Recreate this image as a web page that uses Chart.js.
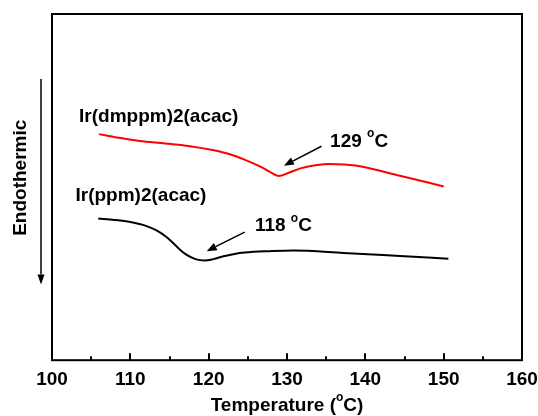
<!DOCTYPE html>
<html>
<head>
<meta charset="utf-8">
<script src="https://cdn.jsdelivr.net/npm/chart.js@4/dist/chart.umd.min.js"></script>
<style>
  html, body { margin: 0; padding: 0; background: #fff; }
  #wrap { width: 538px; height: 416px; }
</style>
</head>
<body>
<div id="wrap"><canvas id="dscChart" width="538" height="416"></canvas></div>
<script>
// DSC curves (heat flow in arbitrary units, endo down)
const dmppmTemp = [106.0, 108.3, 111.2, 114.5, 117.6, 120.5, 122.7, 124.5, 126.6, 127.8, 128.9, 130.3, 131.7, 133.6, 135.5, 137.4, 139.3, 144.4, 150.0];
const dmppmFlow = [65.3, 64.3, 63.3, 62.6, 61.8, 60.7, 59.5, 58.0, 55.9, 54.4, 53.2, 54.2, 55.4, 56.3, 56.7, 56.5, 56.0, 53.3, 50.2];

const ppmTemp = [105.9, 108.0, 110.0, 112.0, 113.4, 114.6, 115.5, 116.3, 117.2, 118.3, 119.5, 120.6, 121.9, 123.3, 124.6, 127.8, 130.8, 137.2, 144.4, 150.6];
const ppmFlow = [40.9, 40.5, 39.9, 38.8, 37.4, 35.6, 33.8, 32.0, 30.4, 29.2, 28.8, 29.2, 30.0, 30.7, 31.1, 31.5, 31.7, 31.0, 30.1, 29.3];

const xTicks = [100, 110, 120, 130, 140, 150, 160];
const xMinorTicks = [105, 115, 125, 135, 145, 155];

const FONT = 'bold 19px "Liberation Sans", Arial, sans-serif';
const SUP_FONT = 'bold 12px "Liberation Sans", Arial, sans-serif';

// text pieces: [text, superscript?]
const notes = [
    { x: 103.45, y: 70.3, parts: [['Ir(dmppm)2(acac)', false]] },
    { x: 103.0, y: 47.6, parts: [['Ir(ppm)2(acac)', false]] },
    { x: 135.5, y: 63.2, parts: [['129 ', false], ['o', true], ['C', false]] },
    { x: 125.9, y: 38.7, parts: [['118 ', false], ['o', true], ['C', false]] }
];

const arrows = [
    { from: [134.4, 61.8], to: [129.6, 56.2] },
    { from: [124.6, 37.0], to: [119.75, 31.5] }
];

function toPoints(xs, ys) {
    return xs.map((x, i) => ({ x: x, y: ys[i] }));
}

function drawParts(ctx, parts, x, y, align) {
    let total = 0;
    parts.forEach(p => {
        ctx.font = p[1] ? SUP_FONT : FONT;
        total += ctx.measureText(p[0]).width;
    });
    let cx = align === 'center' ? x - total / 2 : x;
    ctx.textAlign = 'left';
    ctx.textBaseline = 'middle';
    parts.forEach(p => {
        ctx.font = p[1] ? SUP_FONT : FONT;
        ctx.fillText(p[0], cx, p[1] ? y - 8 : y);
        cx += ctx.measureText(p[0]).width;
    });
}

function drawArrow(ctx, x1, y1, x2, y2, head, half) {
    const ang = Math.atan2(y2 - y1, x2 - x1);
    const bx = x2 - head * Math.cos(ang);
    const by = y2 - head * Math.sin(ang);
    ctx.beginPath();
    ctx.moveTo(x1, y1);
    ctx.lineTo(bx, by);
    ctx.stroke();
    ctx.beginPath();
    ctx.moveTo(x2, y2);
    ctx.lineTo(bx + half * Math.sin(ang), by - half * Math.cos(ang));
    ctx.lineTo(bx - half * Math.sin(ang), by + half * Math.cos(ang));
    ctx.closePath();
    ctx.fill();
}

const decorations = {
    id: 'decorations',
    afterDraw(chart) {
        const ctx = chart.ctx;
        const area = chart.chartArea;
        const xs = chart.scales.x;
        const ys = chart.scales.y;
        ctx.save();
        ctx.strokeStyle = '#000';
        ctx.fillStyle = '#000';

        // frame
        ctx.lineWidth = 2;
        ctx.strokeRect(area.left, area.top, area.right - area.left, area.bottom - area.top);

        // inward ticks on the bottom axis
        ctx.lineWidth = 2;
        xTicks.forEach(t => {
            const px = Math.round(xs.getPixelForValue(t));
            ctx.beginPath();
            ctx.moveTo(px, area.bottom);
            ctx.lineTo(px, area.bottom - 7);
            ctx.stroke();
        });
        xMinorTicks.forEach(t => {
            const px = Math.round(xs.getPixelForValue(t));
            ctx.beginPath();
            ctx.moveTo(px, area.bottom);
            ctx.lineTo(px, area.bottom - 4);
            ctx.stroke();
        });

        // labels and arrows
        notes.forEach(n => {
            drawParts(ctx, n.parts, xs.getPixelForValue(n.x), ys.getPixelForValue(n.y), 'left');
        });
        ctx.lineWidth = 1.5;
        arrows.forEach(a => {
            drawArrow(ctx,
                xs.getPixelForValue(a.from[0]), ys.getPixelForValue(a.from[1]),
                xs.getPixelForValue(a.to[0]), ys.getPixelForValue(a.to[1]), 10, 4);
        });

        // y-axis: "Endothermic" with downward arrow
        const ax = area.left - 11;
        ctx.lineWidth = 1.5;
        drawArrow(ctx, ax, ys.getPixelForValue(81.2), ax, ys.getPixelForValue(21.9), 10, 3.5);
        ctx.save();
        ctx.translate(area.left - 31, ys.getPixelForValue(52.7));
        ctx.rotate(-Math.PI / 2);
        drawParts(ctx, [['Endothermic', false]], 0, 0, 'center');
        ctx.restore();

        // x-axis title
        drawParts(ctx, [['Temperature (', false], ['o', true], ['C)', false]],
            (area.left + area.right) / 2, 406, 'center');

        ctx.restore();
    }
};

new Chart(document.getElementById('dscChart').getContext('2d'), {
    type: 'line',
    data: {
        datasets: [{
            label: 'Ir(dmppm)2(acac)',
            data: toPoints(dmppmTemp, dmppmFlow),
            borderColor: '#ff0000',
            borderWidth: 2,
            pointRadius: 0,
            cubicInterpolationMode: 'monotone',
            fill: false
        }, {
            label: 'Ir(ppm)2(acac)',
            data: toPoints(ppmTemp, ppmFlow),
            borderColor: '#000000',
            borderWidth: 2,
            pointRadius: 0,
            cubicInterpolationMode: 'monotone',
            fill: false
        }]
    },
    options: {
        responsive: false,
        animation: false,
        devicePixelRatio: 1,
        layout: { padding: { left: 52, right: 16, top: 14, bottom: 17 } },
        plugins: {
            legend: { display: false },
            tooltip: { enabled: false }
        },
        scales: {
            x: {
                type: 'linear',
                min: 100,
                max: 160,
                afterBuildTicks: axis => { axis.ticks = xTicks.map(v => ({ value: v })); },
                afterFit: axis => { axis.paddingLeft = 0; axis.paddingRight = 0; },
                grid: { display: false, drawTicks: false, tickLength: 0 },
                border: { display: false },
                ticks: {
                    color: '#000',
                    padding: 8,
                    maxRotation: 0,
                    font: { family: '"Liberation Sans", Arial, sans-serif', size: 19, weight: 'bold' }
                }
            },
            y: {
                display: false,
                min: 0,
                max: 100
            }
        }
    },
    plugins: [decorations]
});
</script>
</body>
</html>
